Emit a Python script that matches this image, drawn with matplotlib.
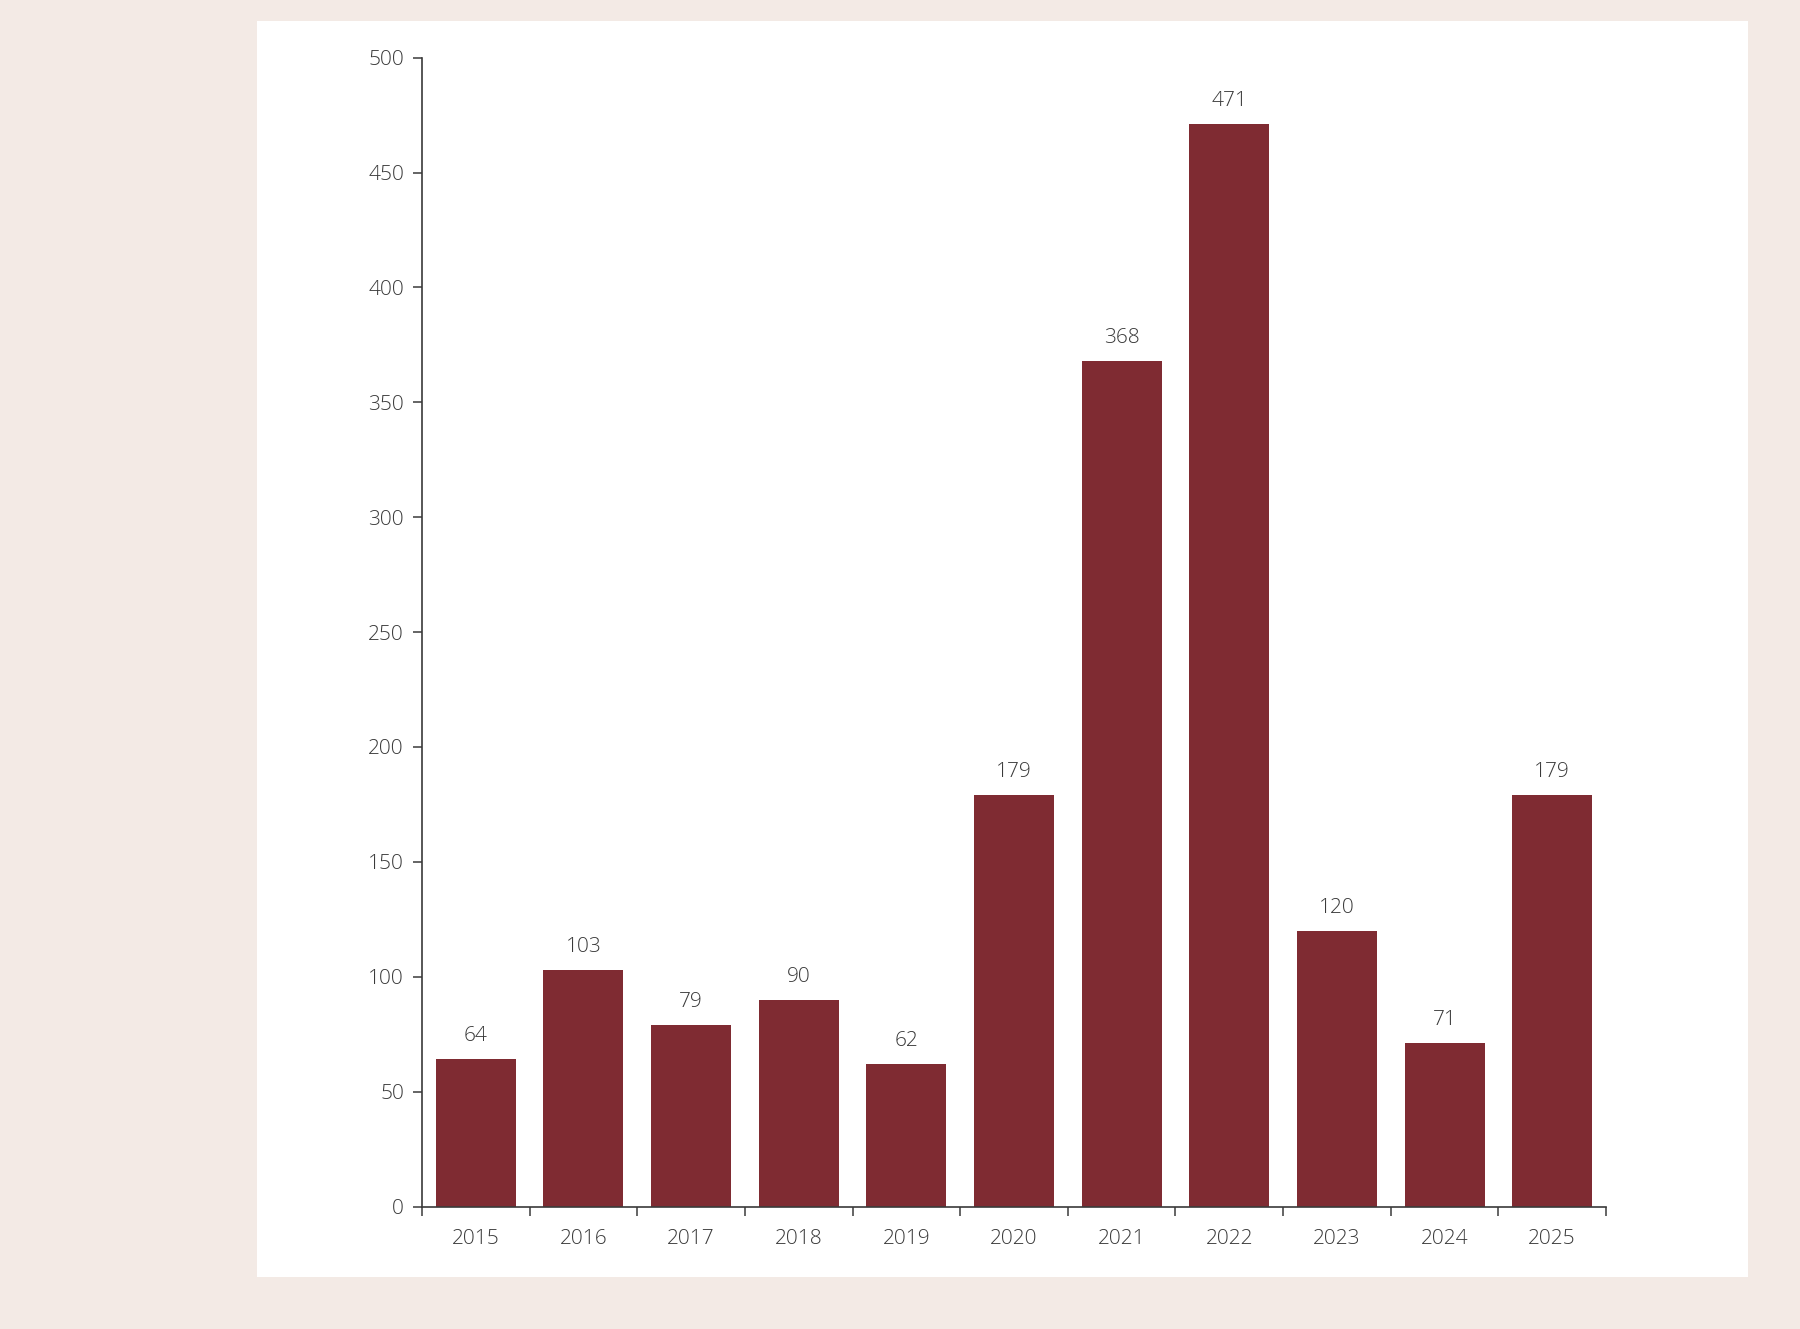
import matplotlib
matplotlib.use("Agg")
import matplotlib.pyplot as plt
import numpy as np

years = ["2015", "2016", "2017", "2018", "2019", "2020", "2021", "2022", "2023", "2024", "2025"]
values = [64, 103, 79, 90, 62, 179, 368, 471, 120, 71, 179]
yticks = [0, 50, 100, 150, 200, 250, 300, 350, 400, 450, 500]

BG = "#F3EAE5"
BAR = "#7F2B32"
TXT = "#3a3a3a"
AX = "#3a3a3a"

plt.rcParams['font.family'] = ['Open Sans', 'DejaVu Sans']
plt.rcParams['font.weight'] = 'light'

W, H = 1800, 1329
fig = plt.figure(figsize=(W / 100, H / 100), dpi=100, facecolor=BG)

# white panel as a background axes
panel = fig.add_axes([257 / W, 1 - 1277 / H, (1748 - 257) / W, (1277 - 21) / H], zorder=0)
panel.set_facecolor("white")
panel.set_xticks([])
panel.set_yticks([])
for s in panel.spines.values():
    s.set_visible(False)

left, right, top, bottom = 422, 1606, 57.7, 1206.5
ax = fig.add_axes([left / W, 1 - bottom / H, (right - left) / W, (bottom - top) / H], zorder=1)
ax.set_facecolor("none")

x = np.arange(len(years))
ax.bar(x, values, width=0.744, color=BAR, zorder=2)
for xi, v in zip(x, values):
    ax.annotate(str(v), (xi, v), xytext=(0, 18), textcoords="offset pixels",
                ha="center", va="baseline", fontsize=15, color=TXT, fontweight='light')

ax.set_xlim(-0.5, len(years) - 0.5)
ax.set_ylim(0, 500)
ax.set_yticks(yticks)
ax.set_yticklabels([str(t) for t in yticks])
ax.set_xticks(x)
ax.set_xticklabels(years)
ax.set_xticks(np.arange(-0.5, len(years), 1.0), minor=True)

for s in ["top", "right"]:
    ax.spines[s].set_visible(False)
for s in ["left", "bottom"]:
    ax.spines[s].set_color(AX)
    ax.spines[s].set_linewidth(1.2)

ax.tick_params(axis="y", direction="out", length=6.5, width=1.1, color=AX, pad=6.5,
               labelsize=15, labelcolor=TXT)
ax.tick_params(axis="x", which="major", length=0, pad=16.5, labelsize=15, labelcolor=TXT)
ax.tick_params(axis="x", which="minor", direction="out", length=6.5, width=1.1, color=AX)

fig.savefig("out.png", dpi=100, facecolor=BG)
